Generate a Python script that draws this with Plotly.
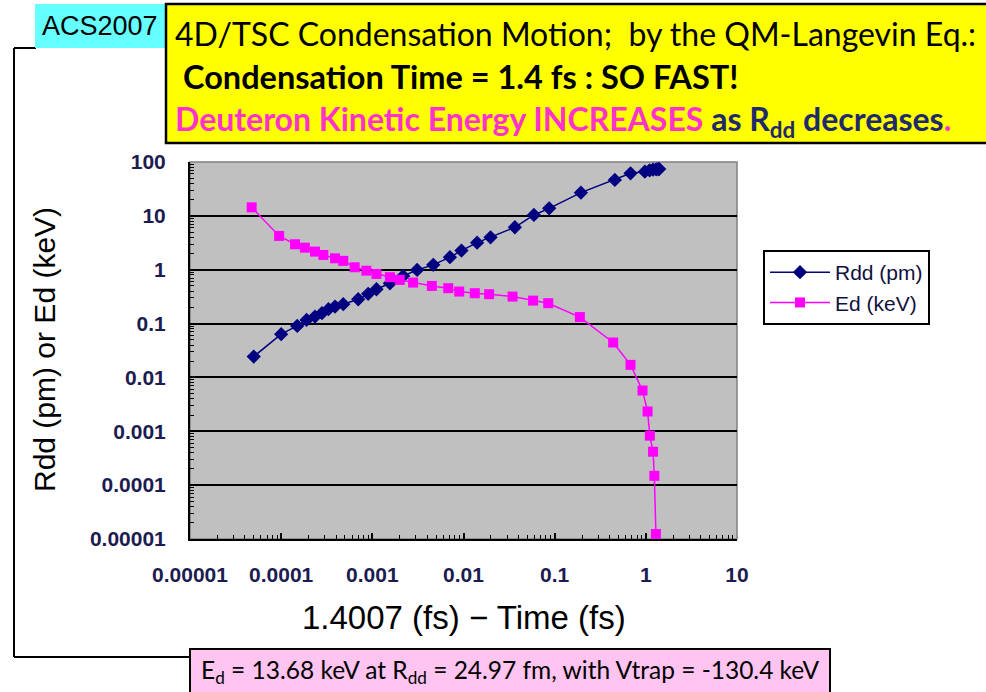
import plotly.graph_objects as go

W, H = 986, 692

# ---- data ----
rdd_time = [5.0e-5, 1.0e-4, 1.5e-4, 1.9e-4, 2.35e-4, 2.8e-4, 3.3e-4, 3.9e-4, 4.8e-4,
            7.0e-4, 9.0e-4, 1.11e-3, 1.56e-3, 2.18e-3, 3.1e-3, 4.66e-3, 7.1e-3, 9.5e-3,
            0.0141, 0.0198, 0.0366, 0.0592, 0.0871, 0.194, 0.457, 0.68, 0.975, 1.1,
            1.2, 1.3, 1.37, 1.4]
rdd_pm = [0.0244, 0.0636, 0.0906, 0.117, 0.135, 0.156, 0.185, 0.207, 0.229,
          0.283, 0.356, 0.434, 0.561, 0.767, 0.99, 1.23, 1.71, 2.27,
          3.18, 4.0, 6.14, 10.4, 13.8, 27.0, 46.4, 61.6, 66.0, 70.0,
          72.0, 73.0, 74.0, 74.0]

ed_time = [4.75e-5, 9.5e-5, 1.42e-4, 1.82e-4, 2.35e-4, 2.9e-4, 3.9e-4, 4.8e-4,
           6.4e-4, 8.6e-4, 1.11e-3, 1.56e-3, 2.0e-3, 2.8e-3, 4.5e-3, 6.8e-3,
           8.97e-3, 0.0133, 0.0191, 0.0345, 0.058, 0.085, 0.189, 0.438, 0.68,
           0.92, 1.045, 1.107, 1.2, 1.24, 1.29]
ed_kev = [14.4, 4.24, 2.97, 2.57, 2.17, 1.88, 1.63, 1.46,
          1.11, 0.96, 0.835, 0.726, 0.648, 0.577, 0.50, 0.454,
          0.393, 0.366, 0.351, 0.317, 0.267, 0.239, 0.132, 0.0445, 0.0171,
          0.00571, 0.00233, 8.3e-4, 4.17e-4, 1.49e-4, 1.24e-5]

x_tick_vals = [1e-5, 1e-4, 1e-3, 1e-2, 1e-1, 1, 10]
x_tick_text = ["0.00001", "0.0001", "0.001", "0.01", "0.1", "1", "10"]
y_tick_vals = [1e-5, 1e-4, 1e-3, 1e-2, 1e-1, 1, 10, 100]
y_tick_text = ["0.00001", "0.0001", "0.001", "0.01", "0.1", "1", "10", "100"]


def minor_vals(lo_exp, hi_exp):
    return [m * 10.0 ** e for e in range(lo_exp, hi_exp) for m in range(2, 10)]


def px(x):
    return x / W


def py(y):
    return 1 - y / H


ARIAL = "Liberation Sans, Arial, sans-serif"
CAL = "Lato, Carlito, Calibri, sans-serif"
TICKC = "#1c1c50"

fig = go.Figure()
fig.add_trace(go.Scatter(
    x=rdd_time, y=rdd_pm, name="Rdd (pm)", mode="lines+markers",
    line=dict(color="#000080", width=1.5),
    marker=dict(symbol="diamond", size=11, color="#000080"),
))
fig.add_trace(go.Scatter(
    x=ed_time, y=ed_kev, name="Ed (keV)", mode="lines+markers",
    line=dict(color="#FF00FF", width=1.5),
    marker=dict(symbol="square", size=10, color="#FF00FF"),
))

x0, x1 = 190, 737
y0, y1 = 162, 539

fig.update_layout(
    width=W, height=H,
    margin=dict(l=0, r=0, t=0, b=0, autoexpand=False),
    paper_bgcolor="white",
    plot_bgcolor="#C0C0C0",
    showlegend=True,
    legend=dict(
        x=px(763), y=py(250), xanchor="left", yanchor="top",
        bgcolor="white", bordercolor="black", borderwidth=2,
        font=dict(family=ARIAL, size=21, color="#101040"),
        tracegroupgap=0, itemwidth=60,
    ),
    xaxis=dict(
        type="log", range=[-5, 1], domain=[px(x0), px(x1)], automargin=False,
        tickmode="array", tickvals=x_tick_vals, ticktext=x_tick_text,
        ticks="inside", ticklen=6, tickwidth=1.5, tickcolor="black",
        ticklabelstandoff=16,
        showgrid=False, zeroline=False,
        showline=True, linecolor="black", linewidth=2,
        tickfont=dict(family=ARIAL, size=21, color=TICKC, weight="bold"),
        minor=dict(tickmode="array", tickvals=minor_vals(-5, 1), ticks="inside",
                   ticklen=4, tickcolor="black", tickwidth=1, showgrid=False),
        fixedrange=True,
    ),
    yaxis=dict(
        type="log", range=[-5, 2], domain=[py(y1), py(y0)], automargin=False,
        tickmode="array", tickvals=y_tick_vals, ticktext=y_tick_text,
        ticks="inside", ticklen=6, tickwidth=1.5, tickcolor="black",
        ticklabelstandoff=18,
        showgrid=True, gridcolor="black", gridwidth=2,
        zeroline=False,
        showline=True, linecolor="black", linewidth=2,
        tickfont=dict(family=ARIAL, size=21, color=TICKC, weight="bold"),
        minor=dict(tickmode="array", tickvals=minor_vals(-5, 2), ticks="inside",
                   ticklen=4, tickcolor="black", tickwidth=1, showgrid=False),
        fixedrange=True,
    ),
)

shapes = []
# plot area gray border (top/right)
shapes.append(dict(type="rect", xref="paper", yref="paper",
                   x0=px(x0), x1=px(x1), y0=py(y1), y1=py(y0),
                   line=dict(color="#808080", width=1.5), layer="below"))
# outer frame lines
shapes.append(dict(type="line", xref="paper", yref="paper",
                   x0=px(14), x1=px(36), y0=py(48), y1=py(48),
                   line=dict(color="black", width=2)))
shapes.append(dict(type="line", xref="paper", yref="paper",
                   x0=px(14), x1=px(14), y0=py(48), y1=py(657),
                   line=dict(color="black", width=2)))
shapes.append(dict(type="line", xref="paper", yref="paper",
                   x0=px(14), x1=px(190), y0=py(657), y1=py(657),
                   line=dict(color="black", width=2)))
# cyan label box
shapes.append(dict(type="rect", xref="paper", yref="paper",
                   x0=px(35), x1=px(166), y0=py(48), y1=py(4),
                   fillcolor="#66FFFF", line=dict(width=0)))
# yellow title box
shapes.append(dict(type="rect", xref="paper", yref="paper",
                   x0=px(166), x1=px(1000), y0=py(143), y1=py(4),
                   fillcolor="#FFFF00", line=dict(color="black", width=2.5)))
# pink footer box
shapes.append(dict(type="rect", xref="paper", yref="paper",
                   x0=px(190), x1=px(830), y0=py(695), y1=py(649),
                   fillcolor="#FFC4F0", line=dict(color="black", width=2)))
fig.update_layout(shapes=shapes)

ann = []
ann.append(dict(text="ACS2007", x=px(100), y=py(26), xref="paper", yref="paper",
                showarrow=False, xanchor="center", yanchor="middle",
                font=dict(family=ARIAL, size=27, color="black")))
ann.append(dict(text="4D/TSC Condensation Motion;  by the QM-Langevin Eq.:",
                x=px(173), y=py(33), xref="paper", yref="paper",
                showarrow=False, xanchor="left", yanchor="middle",
                font=dict(family=CAL, size=32, color="black")))
ann.append(dict(text="<b>Condensation Time = 1.4 fs : SO FAST!</b>",
                x=px(181), y=py(77), xref="paper", yref="paper",
                showarrow=False, xanchor="left", yanchor="middle",
                font=dict(family=CAL, size=32.5, color="black")))
ann.append(dict(text=("<b><span style='color:#FF33CC'>Deuteron Kinetic Energy INCREASES</span>"
                      "<span style='color:#1F2A6B'> as R<sub>dd</sub> decreases</span>"
                      "<span style='color:#FF33CC'>.</span></b>"),
                x=px(173), y=py(121), xref="paper", yref="paper",
                showarrow=False, xanchor="left", yanchor="middle",
                font=dict(family=CAL, size=32, color="black")))
ann.append(dict(text="E<sub>d</sub> = 13.68 keV at R<sub>dd</sub> = 24.97 fm, with Vtrap = -130.4 keV",
                x=px(199), y=py(671), xref="paper", yref="paper",
                showarrow=False, xanchor="left", yanchor="middle",
                font=dict(family=CAL, size=24.5, color="black")))
ann.append(dict(text="Rdd (pm) or Ed (keV)", x=px(44), y=py(350),
                xref="paper", yref="paper", showarrow=False, textangle=-90,
                xanchor="center", yanchor="middle",
                font=dict(family=ARIAL, size=30, color="black")))
ann.append(dict(text="1.4007 (fs) \u2212 Time (fs)", x=px(464), y=py(617),
                xref="paper", yref="paper", showarrow=False,
                xanchor="center", yanchor="middle",
                font=dict(family=ARIAL, size=33, color="black")))
fig.update_layout(annotations=ann)

fig.write_html("out.html", config={"displayModeBar": False},
               post_script="document.body.style.margin='0px';")
